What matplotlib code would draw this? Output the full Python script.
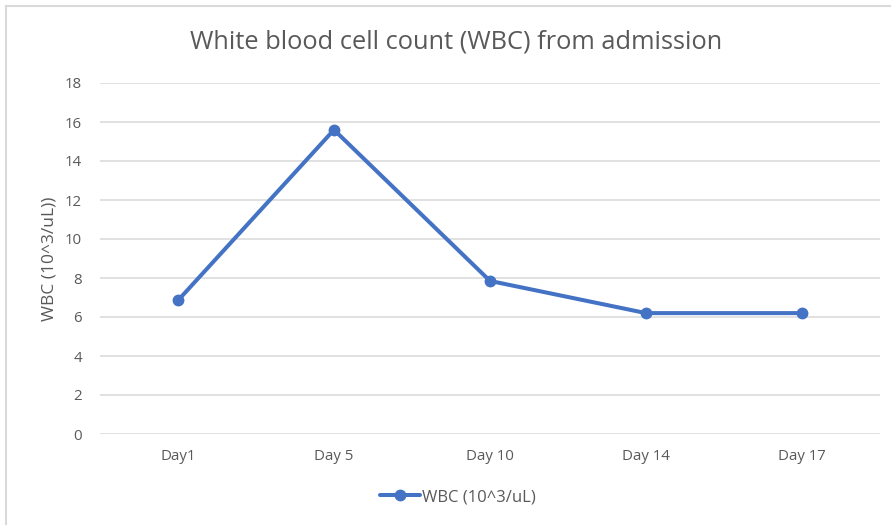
import matplotlib
matplotlib.use('Agg')
import matplotlib.pyplot as plt
from matplotlib.patches import Rectangle

# WBC values
days = ['Day1', 'Day 5', 'Day 10', 'Day 14', 'Day 17']
wbc = [6.85, 15.6, 7.85, 6.2, 6.2]
yticks = [0, 2, 4, 6, 8, 10, 12, 14, 16, 18]

blue = '#4472C4'
grey_text = '#595959'
grid_col = '#D9D9D9'

plt.rcParams['font.family'] = ['Open Sans', 'DejaVu Sans']

fig = plt.figure(figsize=(8.91, 5.25), dpi=100)
ax = fig.add_axes([100 / 891, 1 - 434 / 525, 780 / 891, 351 / 525])

x = list(range(len(days)))
ax.plot(x, wbc, color=blue, linewidth=2.9, marker='o', markersize=7.5,
        label='WBC (10^3/uL)', solid_capstyle='round', zorder=3)

ax.set_xlim(-0.5, len(days) - 0.5)
ax.set_ylim(0, 18)
ax.set_yticks(yticks)
ax.set_xticks(x)
ax.set_xticklabels(days)
ax.tick_params(axis='both', length=0, labelsize=10.8, colors=grey_text)
ax.tick_params(axis='y', pad=13)
ax.tick_params(axis='x', pad=11)
ax.grid(axis='y', color=grid_col, linewidth=1.1)
ax.set_axisbelow(True)
for s in ax.spines.values():
    s.set_visible(False)

ax.set_ylabel('WBC (10^3/uL))', fontsize=12.5, color=grey_text, labelpad=5)
fig.text(456 / 891, 1 - 42 / 525, 'White blood cell count (WBC) from admission',
         ha='center', va='center', fontsize=18.3, color=grey_text)

leg = fig.legend(loc='center', bbox_to_anchor=(458 / 891, 1 - 497 / 525),
                 frameon=False, fontsize=12, handlelength=2.4, handletextpad=0.1)
for t in leg.get_texts():
    t.set_color(grey_text)

# chart border (only top and left visible in the crop)
fig.add_artist(Rectangle((6 / 891, -0.1), 1.2, 1 - 6 / 525 + 0.1,
                         transform=fig.transFigure, fill=False,
                         edgecolor='#D9D9D9', linewidth=1.5))

fig.savefig('out.png', dpi=100)
